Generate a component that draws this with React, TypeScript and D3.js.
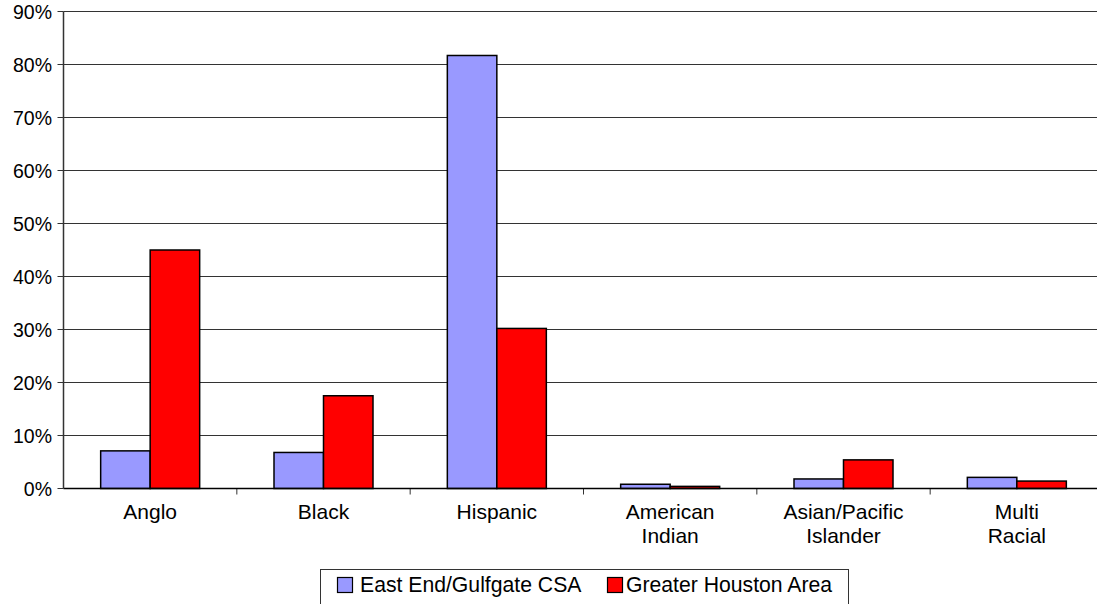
import React from "react";
import * as d3 from "d3";

const categories = ["Anglo", "Black", "Hispanic", "American\nIndian", "Asian/Pacific\nIslander", "Multi\nRacial"];
const seriesNames = ["East End/Gulfgate CSA", "Greater Houston Area"];
const eastEnd = [7.1, 6.8, 81.7, 0.8, 1.8, 2.1];
const houston = [45.0, 17.5, 30.2, 0.4, 5.4, 1.4];
const colors = ["#9999ff", "#ff0000"];
const yTicks = [0, 10, 20, 30, 40, 50, 60, 70, 80, 90];

export default function App() {
  const W = 1097, H = 604;
  const left = 63.5, right = 1103.5, top = 11.5, bottom = 488.5;
  const x = d3.scaleBand<number>().domain(d3.range(categories.length)).range([left, right]);
  const y = d3.scaleLinear().domain([0, 90]).range([bottom, top]);
  const bw = 49.5;
  const font = "Liberation Sans, Arial, sans-serif";
  const series = [eastEnd, houston];
  return (
    <svg width={W} height={H} style={{ position: "absolute", left: 0, top: 0, background: "#fff" }} fontFamily={font}>
      {yTicks.map((t) => (
        <g key={t}>
          {t > 0 && <line x1={left} x2={right} y1={y(t)} y2={y(t)} stroke="#333" strokeWidth={1} />}
          <line x1={left - 6} x2={left} y1={y(t)} y2={y(t)} stroke="#333" strokeWidth={1} />
          <text x={52} y={y(t)} dy="0.36em" textAnchor="end" fontSize={19.5} fill="#000">{t}%</text>
        </g>
      ))}
      {categories.map((c, i) => {
        const cx = x(i)! + x.bandwidth() / 2;
        return (
          <g key={c}>
            {series.map((s, k) => (
              <rect key={k} x={cx - bw + k * bw} y={y(s[i])} width={bw} height={bottom - y(s[i])}
                fill={colors[k]} stroke="#000" strokeWidth={1.5} />
            ))}
            <line x1={x(i)! + x.bandwidth()} x2={x(i)! + x.bandwidth()} y1={bottom} y2={bottom + 6} stroke="#333" />
            {c.split("\n").map((ln, j) => (
              <text key={j} x={cx} y={519 + j * 24} textAnchor="middle" fontSize={21} fill="#000">{ln}</text>
            ))}
          </g>
        );
      })}
      <line x1={left} x2={right} y1={bottom} y2={bottom} stroke="#000" strokeWidth={1.5} />
      <line x1={left} x2={left} y1={top} y2={bottom} stroke="#333" strokeWidth={1.5} />
      <rect x={320.5} y={569.5} width={528} height={40} fill="#fff" stroke="#333" strokeWidth={1} />
      {seriesNames.map((n, k) => {
        const lx = k === 0 ? 337 : 607;
        const tx = k === 0 ? 360 : 626;
        return (
          <g key={n}>
            <rect x={lx + 0.5} y={577.5} width={15} height={15} fill={colors[k]} stroke="#000" strokeWidth={1.2} />
            <text x={tx} y={592} fontSize={21.2} fill="#000">{n}</text>
          </g>
        );
      })}
    </svg>
  );
}
